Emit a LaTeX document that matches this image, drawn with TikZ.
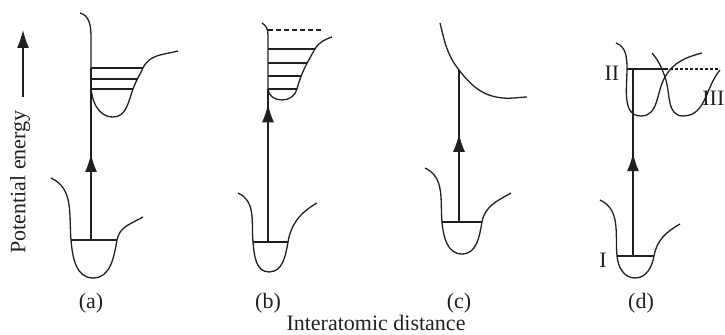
\documentclass[tikz,border=0pt]{standalone}
\usepackage{fontspec}
\setmainfont{Liberation Serif}
\usepackage{tikz}
\usetikzlibrary{arrows.meta, decorations.markings}
\definecolor{ink}{HTML}{231F20}

\tikzset{
  curve/.style={ink, line width=0.65pt},
  level/.style={ink, line width=0.65pt},
  lift/.style={ink, line width=0.65pt, postaction={decorate},
    decoration={markings, mark=at position #1 with {\arrow{Latex[length=9pt,width=6pt]}}}},
  caption/.style={ink, inner sep=1pt}
}

\begin{document}
\begin{tikzpicture}[x=0.5pt, y=0.5pt, font=\fontsize{11}{13}\selectfont]
  \useasboundingbox (0,0) rectangle (725,335);
  % axis titles
  \node[caption, rotate=90] (ylab) at (20,153) {Potential energy};
  \coordinate (yfoot) at (23,238);
  \coordinate (yhead) at (23,305);
  \draw[curve, -{Latex[length=9pt,width=6pt]}] (yfoot) -- (yhead);
  \node[caption] (xlab) at (376,12) {Interatomic distance};

  % (a)
  \coordinate (aL) at (71,95);
  \coordinate (aR) at (117,95);
  \coordinate (aG) at (91,95);
  \coordinate (aT) at (91,267);
  \draw[curve] (51,157) to[out=-25,in=95] (aL) to[out=-85,in=180] (93,57)
    to[out=0,in=-100] (aR) to[out=80,in=210] (143,118);
  \draw[level] (aL) -- (aR);
  \draw[curve] (80,322) to[out=-15,in=90] (91,297) -- (91,250)
    to[out=-90,in=180] (113,218) to[out=0,in=-110] (133,246)
    to[out=70,in=-115] (143,267) to[out=65,in=195] (178,284);
  \foreach \y/\xr in {267/143, 256/138, 246/133}
    \draw[level] (91,\y) -- (\xr,\y);
  \draw[lift=0.5] (aG) -- (aT);
  \node[caption] (capa) at (91,32) {(a)};

  % (b)
  \coordinate (bL) at (253,93);
  \coordinate (bR) at (288,93);
  \coordinate (bG) at (268,93);
  \coordinate (bT) at (268,246);
  \draw[curve] (238,142) to[out=-25,in=95] (bL) to[out=-85,in=180] (269,63)
    to[out=0,in=-100] (bR) to[out=80,in=210] (317,132);
  \draw[level] (bL) -- (bR);
  \draw[curve] (262,312) to[out=-30,in=90] (268,300) -- (bT)
    to[out=-90,in=180] (282,235) to[out=0,in=-105] (297,246)
    to[out=75,in=-120] (315,286) to[out=60,in=200] (332,298);
  \foreach \y/\xr in {286/315, 272/307, 259/301}
    \draw[level] (268,\y) -- (\xr,\y);
  \draw[level] (bT) -- (297,246);
  \draw[level, dash pattern=on 2.5pt off 1.5pt] (268,305) -- (323,305);
  \draw[lift=0.9] (bG) -- (bT);
  \node[caption] (capb) at (268,32) {(b)};

  % (c)
  \coordinate (cL) at (442,113);
  \coordinate (cR) at (482,113);
  \coordinate (cG) at (459,113);
  \coordinate (cT) at (459,265);
  \draw[curve] (425,167) to[out=-25,in=95] (cL) to[out=-85,in=180] (462,81)
    to[out=0,in=-100] (cR) to[out=80,in=210] (511,142);
  \draw[level] (cL) -- (cR);
  \draw[curve] (440,312) to[out=-76,in=128] (cT) to[out=-52,in=175] (503,237)
    to[out=-5,in=182] (527,238);
  \draw[lift=0.58] (cG) -- (cT);
  \node[caption] (capc) at (459,32) {(c)};

  % (d)
  \coordinate (dL) at (617,79);
  \coordinate (dR) at (654,79);
  \coordinate (dG) at (633,79);
  \coordinate (dT) at (633,266);
  \coordinate (dW) at (627,266);
  \coordinate (dX) at (665,266);
  \coordinate (dE) at (720,266);
  \draw[curve] (600,135) to[out=-25,in=95] (dL) to[out=-85,in=180] (635,57)
    to[out=0,in=-100] (dR) to[out=80,in=210] (680,111);
  \draw[level] (dL) -- (dR);
  \draw[curve] (616,292) to[out=-20,in=90] (dW) to[out=-90,in=180] (641,219)
    to[out=0,in=-120] (665,258) to[out=60,in=195] (702,282);
  \draw[curve] (652,282) to[out=-50,in=110] (665,258) to[out=-70,in=180] (683,219)
    to[out=0,in=-130] (720,265);
  \draw[level] (dW) -- (dX);
  \draw[level, dash pattern=on 1.5pt off 1pt] (dX) -- (dE);
  \draw[lift=0.55] (dG) -- (dT);
  \node[caption] (lvI) at (603,75) {I};
  \node[caption] (lvII) at (612,262) {II};
  \node[caption, anchor=west, inner sep=0pt] (lvIII) at (702,237) {III};
  \node[caption] (capd) at (641,32) {(d)};
\end{tikzpicture}
\end{document}
